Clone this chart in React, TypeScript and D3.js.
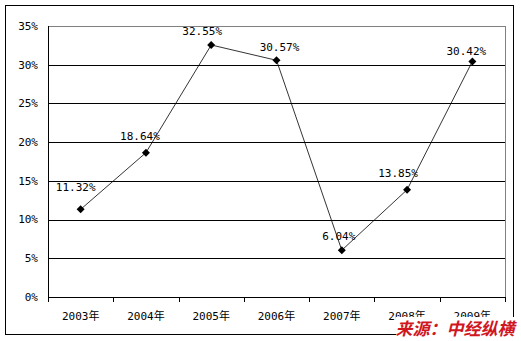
import React from "react";
import * as d3 from "d3";

const years = ["2003年", "2004年", "2005年", "2006年", "2007年", "2008年", "2009年"];
const rates = [11.32, 18.64, 32.55, 30.57, 6.04, 13.85, 30.42];
const yTicks = [0, 5, 10, 15, 20, 25, 30, 35];
// label nudges (dx, dy) relative to each point
const labelDx = [-5, -6, -9, 3, -3, -9, -6];
const labelDy = [-22, -17, -14, -13, -14, -17, -10];
const sourceText = "来源：中经纵横";

const W = 521;
const H = 341;
const plot = { left: 48, right: 505, top: 26, bottom: 297 };
const mono = "'DejaVu Sans Mono', 'Liberation Mono', 'Noto Sans CJK SC', monospace";

export default function App() {
  const x = d3.scaleBand<string>().domain(years).range([plot.left, plot.right]).padding(0);
  const y = d3.scaleLinear().domain([0, 35]).range([plot.bottom, plot.top]);
  const cx = (i: number) => (x(years[i]) as number) + x.bandwidth() / 2;
  const line = d3
    .line<number>()
    .x((_, i) => cx(i))
    .y((d) => y(d));
  const r = 4;
  const diamond = `M0,${-r}L${r},0L0,${r}L${-r},0Z`;
  const boundaries = years.map((yr) => x(yr) as number).concat([plot.right]);

  return (
    <svg
      width={W}
      height={H}
      style={{ position: "absolute", left: 0, top: 0, background: "#fff" }}
    >
      <rect x={0} y={0} width={W} height={H} fill="#fff" />
      <rect x={5.5} y={5.5} width={508} height={329} fill="none" stroke="#000" strokeWidth={1} />
      {/* gridlines */}
      {yTicks
        .filter((t) => t > 0 && t < 35)
        .map((t) => (
          <line
            key={t}
            x1={plot.left}
            x2={plot.right}
            y1={Math.round(y(t)) + 0.5}
            y2={Math.round(y(t)) + 0.5}
            stroke="#000"
            strokeWidth={1}
          />
        ))}
      {/* plot area border (grey top & right) */}
      <line x1={plot.left} x2={plot.right} y1={plot.top + 0.5} y2={plot.top + 0.5} stroke="#808080" />
      <line x1={plot.right + 0.5} x2={plot.right + 0.5} y1={plot.top} y2={plot.bottom} stroke="#808080" />
      {/* axes */}
      <line x1={plot.left + 0.5} x2={plot.left + 0.5} y1={plot.top} y2={plot.bottom + 1} stroke="#000" />
      <line x1={plot.left} x2={plot.right + 1} y1={plot.bottom + 0.5} y2={plot.bottom + 0.5} stroke="#000" />
      {boundaries.map((b, i) => (
        <line
          key={i}
          x1={Math.round(b) + 0.5}
          x2={Math.round(b) + 0.5}
          y1={plot.bottom}
          y2={plot.bottom + 5}
          stroke="#000"
        />
      ))}
      {/* y tick labels */}
      {yTicks.map((t) => (
        <text
          key={t}
          x={38}
          y={y(t)}
          dy="0.35em"
          textAnchor="end"
          fontFamily={mono}
          fontSize={11}
          fill="#000"
        >
          {t + "%"}
        </text>
      ))}
      {/* x labels */}
      {years.map((yr, i) => (
        <text
          key={yr}
          x={cx(i)}
          y={320}
          textAnchor="middle"
          fontFamily={mono}
          fontSize={11}
          fill="#000"
        >
          {yr}
        </text>
      ))}
      {/* series line */}
      <path d={line(rates) as string} fill="none" stroke="#000" strokeWidth={0.8} />
      {rates.map((v, i) => (
        <path key={i} d={diamond} transform={`translate(${cx(i)},${y(v)})`} fill="#000" />
      ))}
      {/* data labels */}
      {rates.map((v, i) => (
        <text
          key={i}
          x={cx(i) + labelDx[i]}
          y={y(v) + labelDy[i]}
          dy="0.35em"
          textAnchor="middle"
          fontFamily={mono}
          fontSize={11}
          fill="#000"
        >
          {v.toFixed(2) + "%"}
        </text>
      ))}
      {/* source watermark */}
      <rect x={396} y={317} width={125} height={24} fill="#fff" />
      <text
        x={455}
        y={335}
        textAnchor="middle"
        fontFamily="'Noto Sans CJK SC', sans-serif"
        fontSize={17}
        fontWeight="bold"
        fontStyle="italic"
        fill="#d0161e"
      >
        {sourceText}
      </text>
    </svg>
  );
}
